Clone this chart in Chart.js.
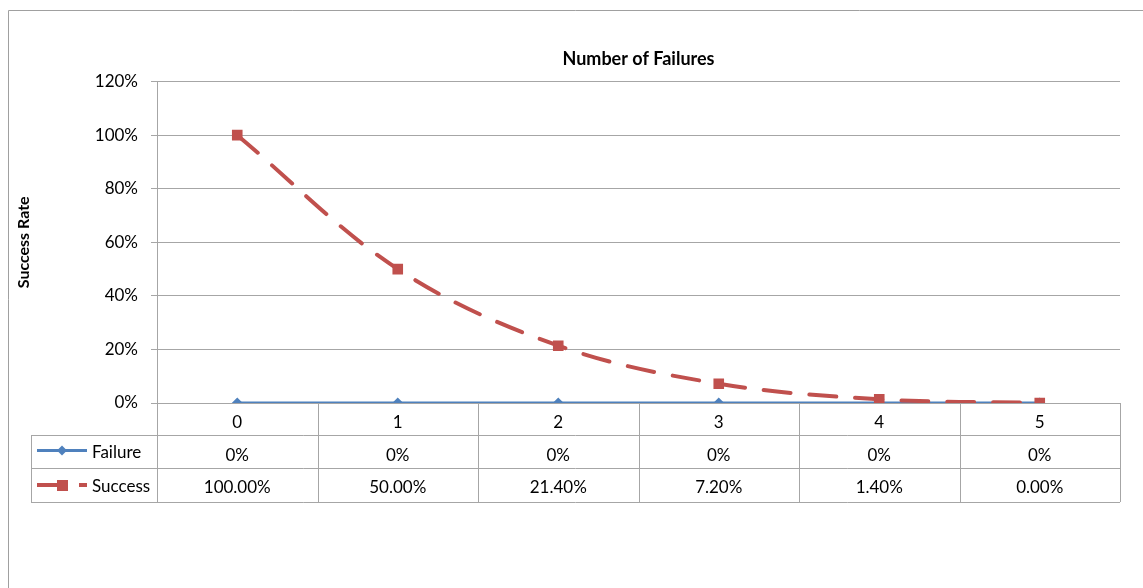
<!DOCTYPE html>
<html>
<head>
<meta charset="utf-8">
<script src="https://cdn.jsdelivr.net/npm/chart.js@4"></script>
<style>
  body { margin: 0; background: #fff; }
  #wrap { position: relative; width: 1143px; height: 588px; }
</style>
</head>
<body>
<div id="wrap"><canvas id="chart"></canvas></div>
<script>
// data
const categories = ['0', '1', '2', '3', '4', '5'];
const failureRates = [0, 0, 0, 0, 0, 0];
const successRates = [1.0, 0.5, 0.214, 0.072, 0.014, 0.0];
const yTicks = [0, 0.2, 0.4, 0.6, 0.8, 1.0, 1.2];

const blue = '#4f81bd';
const red = '#c0504d';
const gridGray = '#a6a6a6';
const font = 'Lato, Carlito, "Open Sans", sans-serif';

function pct(v, digits) {
    return (v * 100).toFixed(digits) + '%';
}

// draws the Excel-style data table under the x axis
const dataTable = {
    id: 'dataTable',
    beforeDatasetsDraw(chart) {
        const { ctx, chartArea } = chart;
        const x = chart.scales.x;
        const top = chartArea.bottom;
        const r0 = top + 32, r1 = r0 + 33, r2 = r1 + 34;
        const tableLeft = 31;

        ctx.save();
        // outer chart frame
        ctx.strokeStyle = '#a0a0a0';
        ctx.lineWidth = 1;
        ctx.beginPath();
        ctx.moveTo(8.5, 600);
        ctx.lineTo(8.5, 10.5);
        ctx.lineTo(1143, 10.5);
        ctx.stroke();

        ctx.strokeStyle = gridGray;
        ctx.beginPath();
        // horizontal rules
        [r0, r1, r2].forEach(y => {
            ctx.moveTo(tableLeft, Math.round(y) + 0.5);
            ctx.lineTo(chartArea.right, Math.round(y) + 0.5);
        });
        // vertical rules
        ctx.moveTo(tableLeft + 0.5, r0);
        ctx.lineTo(tableLeft + 0.5, r2);
        ctx.moveTo(Math.round(chartArea.left) + 0.5, chartArea.top);
        ctx.lineTo(Math.round(chartArea.left) + 0.5, r2);
        for (let i = 0; i < categories.length; i++) {
            let bx;
            if (i === categories.length - 1) bx = chartArea.right;
            else bx = (x.getPixelForValue(i) + x.getPixelForValue(i + 1)) / 2;
            ctx.moveTo(Math.round(bx) + 0.5, top);
            ctx.lineTo(Math.round(bx) + 0.5, r2);
        }
        ctx.stroke();

        // cell text
        ctx.fillStyle = '#000';
        ctx.font = '17px ' + font;
        ctx.textAlign = 'center';
        ctx.textBaseline = 'middle';
        const c1 = (r0 + r1) / 2, c2 = (r1 + r2) / 2;
        categories.forEach((c, i) => {
            const px = x.getPixelForValue(i);
            ctx.fillText(pct(failureRates[i], 0), px, c1 + 4);
            ctx.fillText(pct(successRates[i], 2), px, c2 + 3);
        });

        // legend keys
        ctx.textAlign = 'left';
        ctx.fillText('Failure', 92, c1 + 1);
        ctx.fillText('Success', 92, c2 + 2);

        ctx.strokeStyle = blue;
        ctx.lineWidth = 3;
        ctx.beginPath();
        ctx.moveTo(37, c1 - 1);
        ctx.lineTo(87, c1 - 1);
        ctx.stroke();
        ctx.fillStyle = blue;
        ctx.beginPath();
        ctx.moveTo(62, c1 - 6);
        ctx.lineTo(67, c1 - 1);
        ctx.lineTo(62, c1 + 4);
        ctx.lineTo(57, c1 - 1);
        ctx.closePath();
        ctx.fill();

        ctx.strokeStyle = red;
        ctx.lineWidth = 4;
        ctx.beginPath();
        ctx.moveTo(37, c2);
        ctx.lineTo(60, c2);
        ctx.moveTo(79, c2);
        ctx.lineTo(87, c2);
        ctx.stroke();
        ctx.fillStyle = red;
        ctx.fillRect(57, c2 - 5, 11, 11);
        ctx.restore();
    }
};

new Chart(document.getElementById('chart').getContext('2d'), {
    type: 'line',
    data: {
        labels: categories,
        datasets: [
            {
                label: 'Failure',
                data: failureRates,
                borderColor: blue,
                backgroundColor: blue,
                borderWidth: 3,
                pointStyle: 'rectRot',
                pointRadius: 5.5,
                pointBorderWidth: 0,
                tension: 0,
                order: 2
            },
            {
                label: 'Success',
                data: successRates,
                borderColor: red,
                backgroundColor: red,
                borderWidth: 4,
                borderDash: [27, 19],
                borderCapStyle: 'round',
                pointStyle: 'rect',
                pointRadius: 7.5,
                pointBorderWidth: 0,
                tension: 0.35,
                order: 1
            }
        ]
    },
    options: {
        responsive: true,
        maintainAspectRatio: false,
        animation: false,
        layout: { padding: { left: 8, top: 10, right: 23, bottom: 86 } },
        plugins: {
            legend: { display: false },
            tooltip: { enabled: false },
            title: {
                display: true,
                fullSize: false,
                text: 'Number of Failures',
                color: '#000',
                font: { family: font, size: 18, weight: 'bold' },
                padding: { top: 38, bottom: 12 }
            }
        },
        scales: {
            x: {
                offset: true,
                grid: { display: false, drawTicks: false },
                border: { display: false },
                ticks: {
                    color: '#000',
                    font: { family: font, size: 17 },
                    padding: 9,
                    maxRotation: 0
                },
                afterFit(scale) { scale.height = 99; }
            },
            y: {
                min: 0,
                max: 1.2,
                afterBuildTicks(scale) {
                    scale.ticks = yTicks.map(v => ({ value: v }));
                },
                grid: { color: gridGray, tickLength: 6, tickColor: gridGray },
                border: { color: gridGray },
                ticks: {
                    color: '#000',
                    font: { family: font, size: 17 },
                    padding: 13,
                    callback: v => Math.round(v * 100) + '%'
                },
                title: {
                    display: true,
                    text: 'Success Rate',
                    color: '#000',
                    font: { family: font, size: 16, weight: 'bold' },
                    padding: { top: 6, bottom: 0 }
                },
                afterFit(scale) { scale.width = 149; }
            }
        }
    },
    plugins: [dataTable]
});
</script>
</body>
</html>
